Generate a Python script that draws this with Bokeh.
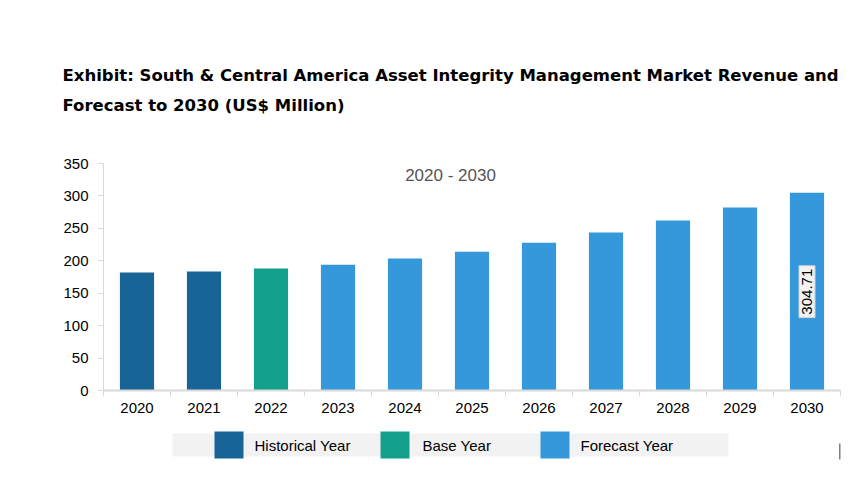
from bokeh.plotting import figure
from bokeh.models import ColumnDataSource, FixedTicker, Label, Range1d, Title
from bokeh.layouts import column
from bokeh.embed import file_html
from bokeh.resources import INLINE
from bokeh.core.properties import value

years = ["2020", "2021", "2022", "2023", "2024", "2025", "2026", "2027", "2028", "2029", "2030"]
revenue = [182.0, 183.5, 188.0, 194.0, 203.5, 214.0, 228.0, 243.5, 262.0, 282.0, 304.71]
year_type = ["Historical Year", "Historical Year", "Base Year"] + ["Forecast Year"] * 8
type_names = ["Historical Year", "Base Year", "Forecast Year"]
type_colors = {"Historical Year": "#186496", "Base Year": "#12a08c", "Forecast Year": "#3498db"}
title_lines = ["Exhibit: South & Central America Asset Integrity Management Market Revenue and",
               "Forecast to 2030 (US$ Million)"]
subtitle = "2020 - 2030"
y_ticks = [0, 50, 100, 150, 200, 250, 300, 350]

W = 860
FL, FR, FT, FB = 103, 840, 163, 390   # frame edges on the page
H1 = 430
p = figure(width=W, height=H1, output_backend="svg", toolbar_location=None,
           x_range=Range1d(0, len(years)), y_range=Range1d(0, 350),
           min_border_left=FL, min_border_right=W - FR, min_border_top=FT, min_border_bottom=H1 - FB)
p.outline_line_color = None
p.grid.visible = False
p.title.visible = False

xc = [i + 0.5 for i in range(len(years))]
src = ColumnDataSource(dict(x=xc, top=revenue, color=[type_colors[t] for t in year_type]))
p.vbar(x="x", top="top", width=0.51, bottom=0, source=src, fill_color="color", line_color=None)

xa = p.xaxis[0]
xa.ticker = FixedTicker(ticks=xc, minor_ticks=list(range(len(years) + 1)))
xa.major_label_overrides = {x: y for x, y in zip(xc, years)}
xa.major_tick_out = 0
xa.major_tick_in = 0
xa.minor_tick_out = 6
xa.minor_tick_in = 0
xa.minor_tick_line_color = "#d9d9d9"
xa.axis_line_color = "#d9d9d9"
xa.axis_line_width = 2
xa.major_label_text_font = "Liberation Sans"
xa.major_label_text_font_size = "15px"
xa.major_label_text_color = "#000000"
xa.major_label_standoff = 6

ya = p.yaxis[0]
ya.ticker = FixedTicker(ticks=y_ticks)
ya.major_tick_out = 5
ya.major_tick_in = 0
ya.minor_tick_out = 0
ya.minor_tick_in = 0
ya.major_tick_line_color = "#d9d9d9"
ya.axis_line_color = "#d9d9d9"
ya.major_label_text_font = "Liberation Sans"
ya.major_label_text_font_size = "15px"
ya.major_label_text_color = "#000000"
ya.major_label_standoff = 10

# two-line title above the frame
p.add_layout(Title(text="\n".join(title_lines), align="left", offset=62 - FL, standoff=96,
                   text_font="DejaVu Sans", text_font_style="bold", text_font_size="16.5px",
                   text_line_height=1.6, text_color="#000000"), "above")

p.add_layout(Label(x=(450 - FL) / 67.0, y=331, text=subtitle, text_align="center", text_baseline="middle",
                   text_font="Liberation Sans", text_font_size="17px", text_color="#555555"))

p.add_layout(Label(x=xc[-1], y=revenue[-1] / 2, text=f"{revenue[-1]:.2f}", angle=90, angle_units="deg",
                   text_align="center", text_baseline="middle", text_font="Liberation Sans",
                   text_font_size="15px", text_color="#000000",
                   background_fill_color="#f2f2f2", border_line_color="#d0d0d0", padding=3))

# legend strip: a second figure, frame aligned with the chart, data space = page pixels
H2 = 50
lg = figure(width=W, height=H2, output_backend="svg", toolbar_location=None,
            x_range=Range1d(FL, FR), y_range=Range1d(H1 + H2, H1),
            min_border_left=FL, min_border_right=W - FR, min_border_top=0, min_border_bottom=0)
lg.axis.visible = False
lg.grid.visible = False
lg.outline_line_color = None
lg.quad(left=[172], right=[728], top=[433], bottom=[456], fill_color="#f2f2f2", line_color=None)
sw_left = [214, 380, 540]
txt_left = [254, 422, 580]
lg.quad(left=sw_left, right=[s + 29 for s in sw_left], top=[431] * 3, bottom=[458] * 3,
        fill_color=[type_colors[n] for n in type_names], line_color=None)
lg.text(x=txt_left, y=[445] * 3, text=type_names, text_baseline="middle", text_align="left",
        text_font=value("Liberation Sans"), text_font_size="15px", text_color="#000000")
lg.segment(x0=[839.5], y0=[443], x1=[839.5], y1=[459], line_color="#000000", line_width=1)

layout = column(p, lg, spacing=0)
open("out.html", "w").write(file_html(layout, INLINE))
